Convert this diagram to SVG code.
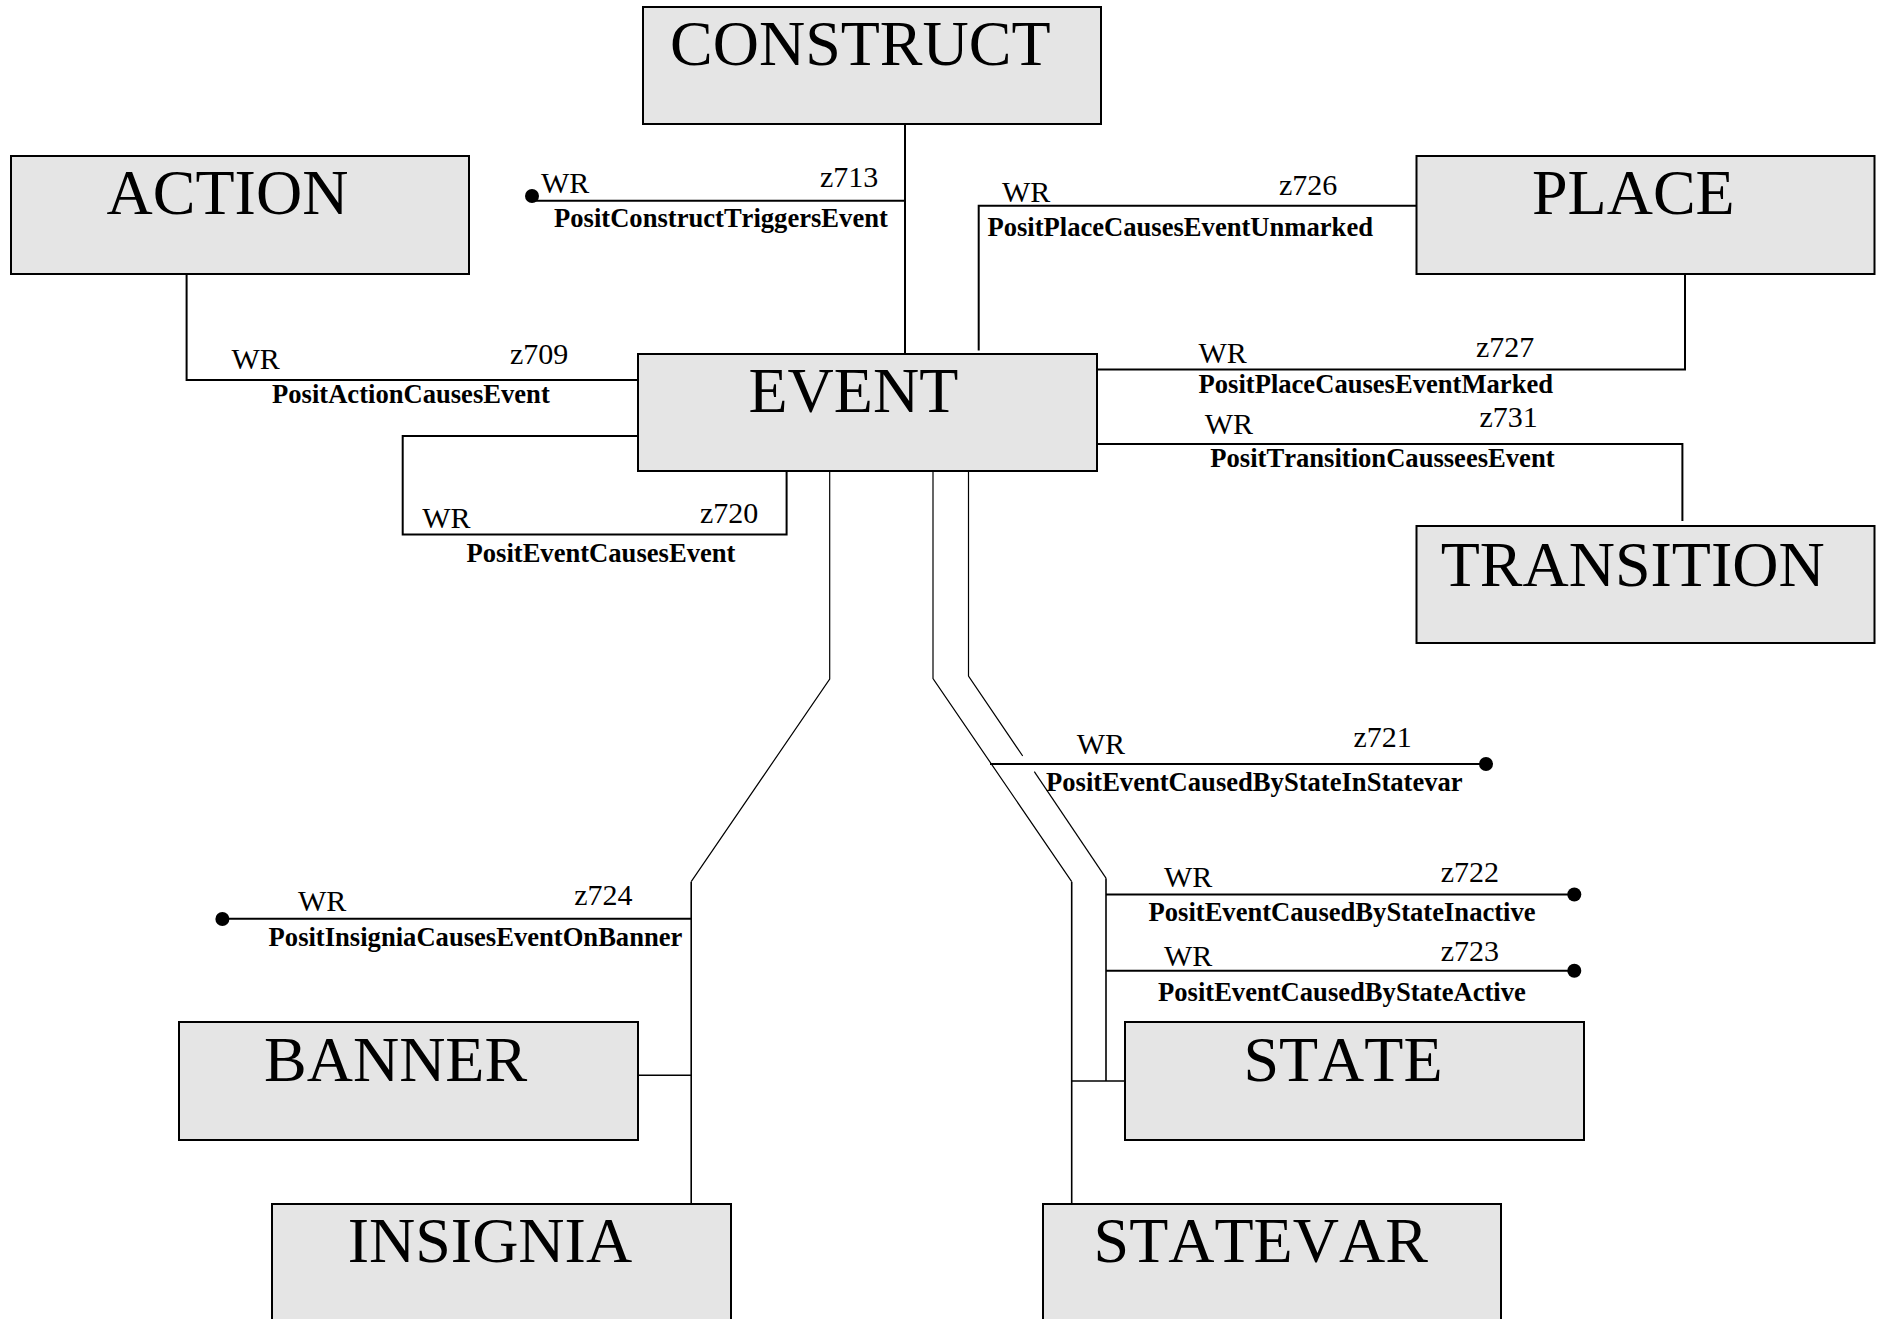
<svg xmlns="http://www.w3.org/2000/svg" width="1879" height="1319" viewBox="0 0 1879 1319">
<style>
  text{font-kerning:none}
  .box{fill:#e5e5e5;stroke:#000;stroke-width:2}
  .lbl{font-family:"Liberation Serif","Times New Roman",serif;font-size:64px;fill:#000}
  .wr{font-family:"Liberation Serif","Times New Roman",serif;font-size:30px;fill:#000}
  .nm{font-family:"Liberation Serif","Times New Roman",serif;font-size:26.6px;font-weight:bold;fill:#000}
  .c{fill:none;stroke:#000;stroke-width:2}
  .t{fill:none;stroke:#000;stroke-width:1.2}
  .m{fill:none;stroke:#000;stroke-width:1.6}
  .dot{fill:#000}
</style>
<rect width="1879" height="1319" fill="#fff"/>

<g id="connectors">
  <g id="z713">
    <path class="c" d="M905,124 V354"/>
    <path class="c" d="M905,200.7 H532"/>
    <circle class="dot" cx="532" cy="196" r="7"/>
    <text class="wr" x="541" y="193">WR</text>
    <text class="wr" x="820" y="187">z713</text>
    <text class="nm" x="554" y="227">PositConstructTriggersEvent</text>
  </g>
  <g id="z709">
    <path class="c" d="M186.6,274 V380 H638"/>
    <text class="wr" x="231.5" y="369">WR</text>
    <text class="wr" x="510" y="364">z709</text>
    <text class="nm" x="272" y="403">PositActionCausesEvent</text>
  </g>
  <g id="z726">
    <path class="c" d="M1416.5,205.7 H978.7 V350.5"/>
    <text class="wr" x="1002" y="201.7">WR</text>
    <text class="wr" x="1279" y="195">z726</text>
    <text class="nm" x="987.4" y="235.7">PositPlaceCausesEventUnmarked</text>
  </g>
  <g id="z727">
    <path class="c" d="M1097,369.5 H1685 V274"/>
    <text class="wr" x="1198.5" y="362.7">WR</text>
    <text class="wr" x="1476" y="356.7">z727</text>
    <text class="nm" x="1198.5" y="392.7">PositPlaceCausesEventMarked</text>
  </g>
  <g id="z731">
    <path class="c" d="M1097,444 H1682.4 V521"/>
    <text class="wr" x="1204.7" y="434">WR</text>
    <text class="wr" x="1479.4" y="427.3">z731</text>
    <text class="nm" x="1210.3" y="467.3">PositTransitionCausseesEvent</text>
  </g>
  <g id="z720">
    <path class="c" d="M638,436 H402.7 V534.5 H786.6 V471"/>
    <text class="wr" x="422.3" y="528.3">WR</text>
    <text class="wr" x="700" y="523.3">z720</text>
    <text class="nm" x="466.5" y="561.7">PositEventCausesEvent</text>
  </g>
  <g id="z724">
    <path class="t" d="M829.7,471 V679 L691.2,881.7"/>
    <path class="m" d="M691.2,881.7 V1204"/>
    <path class="m" d="M638,1075.3 H691.2"/>
    <path class="c" d="M222.4,918.8 H691.2"/>
    <circle class="dot" cx="222.4" cy="919" r="7"/>
    <text class="wr" x="298" y="911">WR</text>
    <text class="wr" x="574.3" y="905">z724</text>
    <text class="nm" x="268.6" y="945.6">PositInsigniaCausesEventOnBanner</text>
  </g>
  <g id="z721">
    <path class="t" d="M933,471 V678.5 L1071.7,881.7"/>
    <path class="m" d="M1071.7,881.7 V1204"/>
    <path class="c" d="M990,764 H1486"/>
    <circle class="dot" cx="1486" cy="764" r="7"/>
    <text class="wr" x="1076.7" y="754">WR</text>
    <text class="wr" x="1353.5" y="747">z721</text>
    <text class="nm" x="1046" y="791">PositEventCausedByStateInStatevar</text>
  </g>
  <g id="z722-z723">
    <path class="t" d="M968.5,467 V676 L1022.7,756"/>
    <path class="t" d="M1034.3,771.7 L1106,878.2"/>
    <path class="m" d="M1106,878.2 V1081"/>
    <path class="m" d="M1071.7,1081 H1125"/>
    <path class="c" d="M1106,894.5 H1574.3"/>
    <circle class="dot" cx="1574.3" cy="894.5" r="7"/>
    <text class="wr" x="1164" y="886.8">WR</text>
    <text class="wr" x="1440.7" y="881.7">z722</text>
    <text class="nm" x="1148.5" y="920.9">PositEventCausedByStateInactive</text>
    <path class="c" d="M1106,970.8 H1574.3"/>
    <circle class="dot" cx="1574.3" cy="970.8" r="7"/>
    <text class="wr" x="1164" y="965.7">WR</text>
    <text class="wr" x="1440.7" y="961.4">z723</text>
    <text class="nm" x="1158" y="1001">PositEventCausedByStateActive</text>
  </g>
</g>

<g id="CONSTRUCT">
  <rect class="box" x="643" y="7" width="458" height="117"/>
  <text class="lbl" x="670" y="65">CONSTRUCT</text>
</g>
<g id="ACTION">
  <rect class="box" x="11" y="156" width="458" height="118"/>
  <text class="lbl" x="106.6" y="214">ACTION</text>
</g>
<g id="PLACE">
  <rect class="box" x="1416.5" y="156" width="458" height="118"/>
  <text class="lbl" x="1532" y="214">PLACE</text>
</g>
<g id="EVENT">
  <rect class="box" x="638" y="354" width="459" height="117"/>
  <text class="lbl" x="748.5" y="412">EVENT</text>
</g>
<g id="TRANSITION">
  <rect class="box" x="1416.5" y="526" width="458" height="117"/>
  <text class="lbl" x="1440.7" y="586">TRANSITION</text>
</g>
<g id="BANNER">
  <rect class="box" x="179" y="1022" width="459" height="118"/>
  <text class="lbl" x="264" y="1081">BANNER</text>
</g>
<g id="STATE">
  <rect class="box" x="1125" y="1022" width="459" height="118"/>
  <text class="lbl" x="1243.4" y="1081">STATE</text>
</g>
<g id="INSIGNIA">
  <rect class="box" x="272" y="1204" width="459" height="125"/>
  <text class="lbl" x="347.7" y="1262">INSIGNIA</text>
</g>
<g id="STATEVAR">
  <rect class="box" x="1043" y="1204" width="458" height="125"/>
  <text class="lbl" x="1093.6" y="1262">STATEVAR</text>
</g>
</svg>
